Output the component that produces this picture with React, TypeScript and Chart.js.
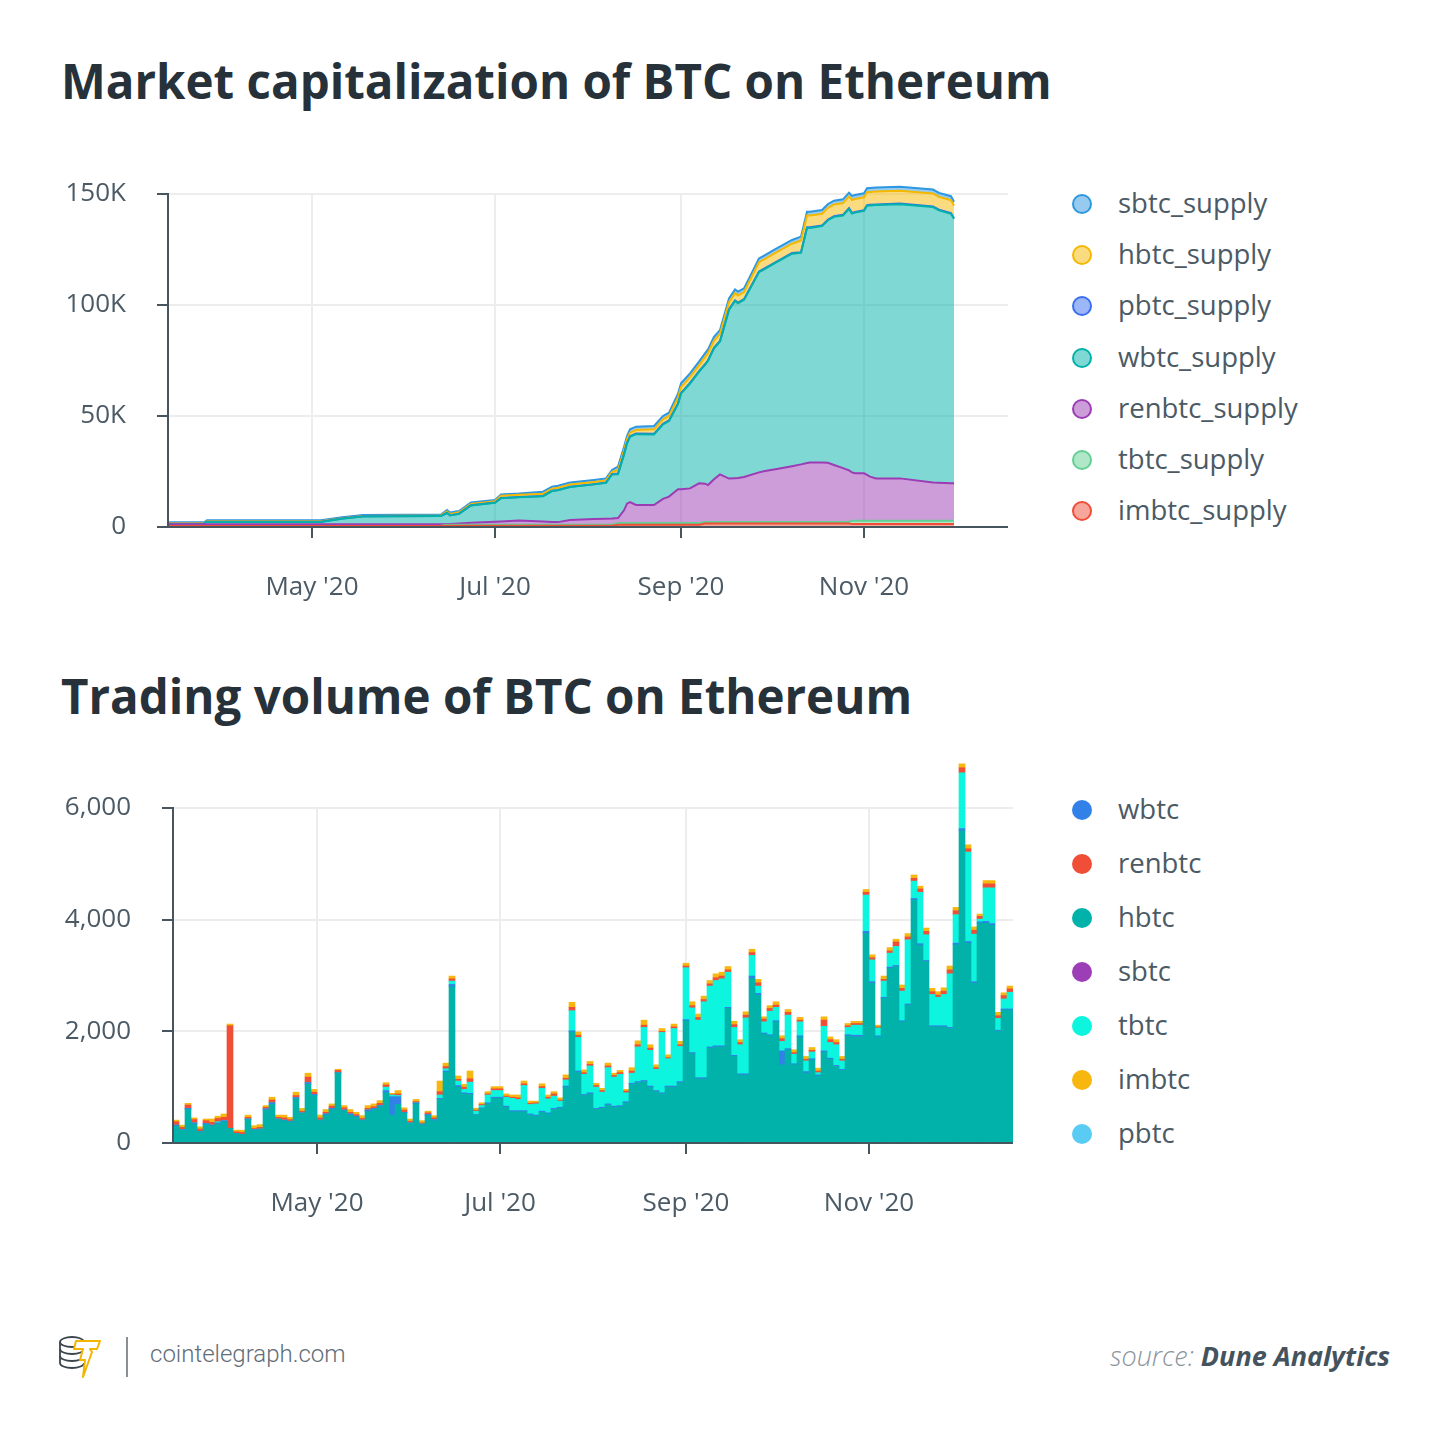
import React, { useEffect, useRef } from "react";
import { Chart, registerables } from "chart.js";

Chart.register(...registerables);

const FONT = "'Open Sans', 'Noto Sans', sans-serif";
const AXIS = "#47555f";
const GRID = "#ededed";
const TEXT = "#4b5a65";

// ---------- shared x axis (days since 1 Jan 2020) ----------
const dayMin = 73;
const dayMax = 353;
const monthTickDays = [121, 182, 244, 305];
const monthTickLabels = ["May '20", "Jul '20", "Sep '20", "Nov '20"];

// ---------- Market capitalization (supply) ----------
const supplyDays = [73, 85, 86, 124, 131, 138, 164, 166, 167, 170, 174, 182, 184, 190, 198, 201, 203, 207, 215, 219, 221, 223, 225, 226, 227, 229, 235, 238, 240, 243, 244, 247, 250, 252, 253, 255, 257, 260, 262, 263, 265, 270, 272, 275, 281, 284, 286, 287, 291, 293, 295, 298, 300, 301, 302, 305, 306, 307, 309, 317, 328, 330, 334, 335];
const imbtcSupply = [500, 500, 500, 500, 500, 500, 500, 600, 600, 600, 600, 600, 600, 600, 600, 600, 600, 600, 600, 600, 600, 1000, 1000, 1000, 1000, 1000, 1000, 1000, 1000, 1000, 1000, 1000, 1000, 1600, 1600, 1600, 1600, 1600, 1600, 1600, 1600, 1600, 1600, 1600, 1600, 1600, 1600, 1600, 1600, 1600, 1600, 1600, 1600, 1300, 1300, 1300, 1300, 1300, 1300, 1300, 1300, 1300, 1300, 1300];
const tbtcSupply = [0, 0, 0, 0, 0, 0, 100, 400, 400, 400, 400, 400, 400, 400, 400, 400, 400, 400, 400, 400, 400, 800, 800, 800, 800, 800, 800, 800, 800, 800, 800, 800, 800, 700, 700, 700, 700, 700, 700, 700, 700, 700, 700, 700, 700, 700, 700, 700, 700, 700, 700, 700, 700, 1500, 1500, 1500, 1500, 1500, 1500, 1500, 1500, 1500, 1500, 1500];
const renbtcSupply = [700, 700, 700, 700, 700, 700, 600, 300, 400, 600, 900, 1400, 1500, 1900, 1500, 1300, 1200, 2200, 2600, 2700, 2800, 2200, 5700, 8700, 9400, 8100, 8100, 10900, 11900, 15200, 15200, 15600, 17900, 17200, 16600, 19200, 21400, 19500, 19700, 19800, 20200, 22300, 22900, 23600, 25100, 25900, 26500, 26700, 26700, 26600, 25600, 24200, 23200, 21800, 21400, 21400, 20700, 19900, 19100, 19100, 17200, 17100, 16900, 16900];
const wbtcSupply = [200, 200, 1100, 1100, 2500, 3500, 3700, 5000, 3800, 4300, 7800, 8500, 10500, 10500, 11400, 13900, 14400, 14800, 15600, 16200, 19900, 19800, 25100, 27100, 29400, 31900, 31800, 33500, 34000, 38400, 43100, 47200, 50200, 53500, 55900, 59000, 59800, 76000, 79800, 78700, 79800, 90200, 91100, 92700, 95700, 95300, 105900, 105700, 106500, 109300, 111800, 113800, 117800, 116600, 117400, 118200, 121200, 122100, 123100, 123500, 124100, 122700, 121400, 119100];
const pbtcSupply = [100, 100, 100, 100, 100, 100, 100, 100, 100, 100, 100, 100, 100, 100, 100, 100, 100, 100, 100, 100, 100, 300, 300, 300, 300, 300, 300, 300, 300, 300, 300, 300, 300, 300, 300, 300, 300, 300, 300, 300, 300, 300, 300, 300, 300, 300, 300, 300, 300, 300, 300, 300, 300, 300, 300, 300, 300, 300, 300, 300, 300, 300, 300, 300];
const hbtcSupply = [200, 200, 200, 200, 200, 200, 200, 600, 600, 600, 600, 600, 1000, 1000, 1000, 1000, 1000, 1000, 1000, 1000, 1000, 1600, 1600, 1600, 1600, 1600, 2000, 2000, 2000, 2600, 2600, 2600, 2600, 3200, 3200, 3200, 3200, 3200, 3200, 3200, 3200, 4200, 4200, 4200, 4200, 5300, 5300, 5300, 5300, 5300, 5300, 5300, 5300, 5800, 5800, 5800, 5800, 5800, 5800, 5800, 5800, 5800, 5800, 5600];
const sbtcSupply = [400, 400, 400, 400, 400, 400, 400, 600, 600, 600, 600, 600, 600, 600, 900, 900, 900, 900, 900, 900, 900, 1500, 1500, 1500, 1500, 1500, 1500, 1500, 1500, 1700, 1700, 1700, 1700, 1700, 1700, 1700, 1700, 1700, 1700, 1700, 1700, 1700, 1700, 1700, 1700, 1700, 1700, 1700, 1700, 1700, 1700, 1700, 1700, 1800, 1800, 1800, 1800, 1800, 1800, 1800, 1800, 1800, 1800, 1800];
const supplyTicks = [0, 50000, 100000, 150000];
const supplyTickLabels = ["0", "50K", "100K", "150K"];

// stacking order bottom -> top
const supplySeries = [
  { label: "imbtc_supply", data: imbtcSupply, color: "#f04e37" },
  { label: "tbtc_supply", data: tbtcSupply, color: "#62cf93" },
  { label: "renbtc_supply", data: renbtcSupply, color: "#9c3cb4" },
  { label: "wbtc_supply", data: wbtcSupply, color: "#00b2a9" },
  { label: "pbtc_supply", data: pbtcSupply, color: "#3a6ff0" },
  { label: "hbtc_supply", data: hbtcSupply, color: "#f5b800" },
  { label: "sbtc_supply", data: sbtcSupply, color: "#2d97e0" },
];
const supplyLegendOrder = ["sbtc_supply", "hbtc_supply", "pbtc_supply", "wbtc_supply", "renbtc_supply", "tbtc_supply", "imbtc_supply"];

// ---------- Trading volume ----------
const volDays = [74, 76, 78, 80, 82, 84, 86, 88, 90, 92, 94, 96, 98, 100, 102, 104, 106, 108, 110, 112, 114, 116, 118, 120, 122, 124, 126, 128, 130, 132, 134, 136, 138, 140, 142, 144, 146, 148, 150, 152, 154, 156, 158, 160, 162, 164, 166, 168, 170, 172, 174, 176, 178, 180, 182, 184, 186, 188, 190, 192, 194, 196, 198, 200, 202, 204, 206, 208, 210, 212, 214, 216, 218, 220, 222, 224, 226, 228, 230, 232, 234, 236, 238, 240, 242, 244, 246, 248, 250, 252, 254, 256, 258, 260, 262, 264, 266, 268, 270, 272, 274, 276, 278, 280, 282, 284, 286, 288, 290, 292, 294, 296, 298, 300, 302, 304, 306, 308, 310, 312, 314, 316, 318, 320, 322, 324, 326, 328, 330, 332, 334, 336, 338, 340, 342, 344, 346, 348, 350, 352];
const hbtcVol = [300, 230, 600, 340, 200, 330, 310, 340, 380,
  260, 170, 150, 420, 230, 240, 590, 690, 420, 400,
  380, 790, 530, 1050, 850, 400, 500, 600, 1250, 580,
  500, 460, 400, 560, 600, 650, 900, 500, 690, 540,
  350, 700, 330, 490, 400, 780, 1270, 2800, 1000,
  880, 870, 500, 620, 700, 800, 800, 640, 560, 560,
  560, 500, 480, 550, 520, 600, 620, 1000, 1990, 1270,
  850, 880, 600, 620, 680, 640, 650, 720, 1050, 1080,
  1100, 1000, 920, 880, 1000, 1000, 1080, 2190, 1600, 1150,
  1150, 1700, 1720, 1720, 2410, 1550, 1220, 1220, 2950, 2650,
  1950, 1920, 2170, 1400, 1670, 1400, 1900, 1250, 1490, 1200,
  1630, 1500, 1370, 1300, 1920, 1900, 1900, 3750, 2860, 1900,
  2590, 3130, 3160, 2170, 2470, 4350, 3540, 3250, 2080, 2080,
  2080, 2050, 3550, 5590, 3580, 2860, 3940, 3940, 3900, 2000,
  2380, 2380];
const wbtcVol = [20, 10, 20, 20, 10, 20, 10, 20, 20,
  0, 0, 0, 10, 10, 10, 20, 30, 10, 10,
  10, 20, 10, 30, 20, 10, 20, 20, 10, 10,
  20, 20, 10, 30, 20, 20, 40, 330, 140, 10,
  10, 20, 10, 20, 20, 20, 20, 40, 30,
  20, 20, 10, 10, 20, 20, 20, 20, 20, 20,
  20, 20, 20, 20, 20, 20, 20, 20, 20, 20,
  20, 20, 20, 20, 20, 20, 20, 20, 20, 20,
  20, 20, 20, 20, 20, 20, 20, 20, 20, 20,
  20, 20, 20, 20, 20, 20, 20, 20, 40, 30,
  20, 20, 20, 250, 20, 20, 20, 30, 20, 20,
  20, 20, 20, 20, 20, 30, 30, 40, 30, 20,
  20, 20, 20, 20, 20, 30, 30, 20, 20, 20,
  20, 20, 30, 40, 30, 30, 20, 30, 30, 20,
  20, 20];
const tbtcVol = [0, 0, 0, 0, 0, 0, 0, 20, 0,
  0, 0, 0, 0, 0, 0, 0, 0, 0, 0,
  0, 0, 0, 0, 0, 0, 0, 0, 0, 0,
  0, 0, 0, 0, 0, 0, 60, 30, 20, 0,
  0, 0, 0, 0, 0, 60, 40, 60, 80,
  60, 200, 60, 40, 140, 120, 120, 160, 220, 200,
  450, 170, 200, 410, 250, 220, 110, 110, 360, 600,
  360, 480, 380, 270, 650, 520, 560, 160, 180, 620,
  950, 640, 380, 1080, 490, 1030, 630, 930, 800, 1030,
  1360, 1090, 1170, 1200, 630, 500, 520, 1000, 370, 130,
  200, 420, 240, 170, 600, 170, 250, 190, 120, 40,
  440, 280, 370, 150, 130, 180, 180, 650, 390, 140,
  290, 250, 340, 530, 1150, 310, 920, 460, 560, 510,
  560, 960, 510, 1000, 1600, 850, 50, 600, 640, 210,
  180, 300];
const sbtcVol: number[] = [];
const pbtcVol: number[] = [];
const renbtcVol = [60, 40, 60, 60, 40, 50, 50, 60, 60,
  1840, 30, 40, 30, 20, 30, 30, 50, 30, 40,
  30, 40, 30, 100, 40, 40, 30, 40, 40, 40,
  30, 30, 30, 30, 30, 40, 40, 10, 30, 40,
  30, 20, 20, 30, 30, 60, 40, 40, 30,
  40, 60, 20, 20, 20, 30, 30, 20, 20, 30,
  30, 20, 20, 30, 30, 40, 20, 30, 60, 40,
  30, 30, 30, 30, 30, 30, 30, 30, 40, 40,
  40, 40, 30, 20, 20, 30, 30, 30, 40, 50,
  40, 40, 50, 50, 40, 50, 40, 50, 50, 60,
  50, 50, 40, 50, 50, 30, 30, 30, 30, 30,
  110, 50, 40, 30, 30, 30, 30, 50, 40, 20,
  30, 40, 80, 50, 50, 50, 60, 60, 50, 40,
  60, 70, 70, 90, 60, 70, 50, 70, 70, 50,
  60, 60];
const imbtcVol = [30, 40, 30, 30, 40, 30, 60, 40, 60,
  30, 30, 40, 40, 50, 50, 30, 50, 40, 50,
  40, 60, 50, 70, 50, 50, 50, 40, 20, 40,
  50, 40, 50, 50, 50, 50, 40, 20, 60, 40,
  40, 40, 40, 30, 40, 190, 60, 50, 60,
  50, 140, 30, 30, 40, 40, 40, 40, 40, 50,
  50, 40, 30, 50, 40, 40, 40, 60, 90, 60,
  50, 50, 40, 40, 50, 40, 40, 30, 60, 70,
  90, 60, 50, 50, 50, 50, 60, 50, 70, 60,
  60, 60, 70, 70, 60, 60, 50, 60, 60, 60,
  40, 50, 60, 50, 50, 50, 50, 50, 50, 50,
  60, 50, 50, 50, 40, 40, 40, 50, 50, 30,
  60, 60, 50, 60, 60, 60, 50, 60, 60, 60,
  60, 70, 60, 70, 70, 60, 40, 60, 60, 60,
  50, 50];
const volumeTicks = [0, 2000, 4000, 6000];
const volumeTickLabels = ["0", "2,000", "4,000", "6,000"];

// stacking order bottom -> top
const volumeSeries = [
  { label: "hbtc", data: hbtcVol, color: "#00b2a9" },
  { label: "wbtc", data: wbtcVol, color: "#3281e8" },
  { label: "tbtc", data: tbtcVol, color: "#0df5de" },
  { label: "sbtc", data: sbtcVol, color: "#9c3fb6" },
  { label: "pbtc", data: pbtcVol, color: "#5acbf2" },
  { label: "renbtc", data: renbtcVol, color: "#f04e37" },
  { label: "imbtc", data: imbtcVol, color: "#f7b70f" },
];
const volumeLegendOrder = ["wbtc", "renbtc", "hbtc", "sbtc", "tbtc", "imbtc", "pbtc"];

// ---------- helpers ----------
function rgba(hex: string, a: number) {
  const n = parseInt(hex.slice(1), 16);
  return `rgba(${n >> 16},${(n >> 8) & 255},${n & 255},${a})`;
}

const framePlugin = {
  id: "frame",
  beforeDraw(chart: any, _a: any, opts: any) {
    const { ctx, scales } = chart;
    const xs = scales.x;
    const ys = scales.y;
    const top = ys.getPixelForValue(opts.yTop);
    const bottom = ys.getPixelForValue(0);
    ctx.save();
    ctx.strokeStyle = GRID;
    ctx.lineWidth = 2;
    monthTickDays.forEach((d) => {
      const px = Math.round(xs.getPixelForValue(d));
      ctx.beginPath();
      ctx.moveTo(px, top);
      ctx.lineTo(px, bottom);
      ctx.stroke();
    });
    ctx.restore();
  },
  afterDatasetsDraw(chart: any, _a: any, opts: any) {
    const { ctx, chartArea, scales } = chart;
    const ys = scales.y;
    const top = ys.getPixelForValue(opts.yTop) - 1;
    const bottom = Math.round(ys.getPixelForValue(0));
    ctx.save();
    ctx.strokeStyle = AXIS;
    ctx.lineWidth = 2;
    ctx.beginPath();
    ctx.moveTo(chartArea.left, top);
    ctx.lineTo(chartArea.left, bottom + 1);
    ctx.moveTo(chartArea.left - 1, bottom);
    ctx.lineTo(chartArea.right, bottom);
    ctx.stroke();
    ctx.restore();
  },
};

function scalesConfig(o: { yMax: number; yTicks: number[]; yLabels: string[]; leftWidth: number; xHeight: number; stackX: boolean }) {
  const tickFont = { family: FONT, size: 26 };
  return {
    x: {
      type: "linear",
      min: dayMin,
      max: dayMax,
      offset: false,
      stacked: o.stackX,
      afterBuildTicks: (s: any) => {
        s.ticks = monthTickDays.map((v) => ({ value: v }));
      },
      afterFit: (s: any) => {
        s.height = o.xHeight;
        s.paddingLeft = 0;
        s.paddingRight = 0;
        s.paddingTop = 0;
        s.paddingBottom = 0;
      },
      ticks: {
        callback: (_v: any, i: number) => monthTickLabels[i],
        font: tickFont,
        color: TEXT,
        padding: 34,
        maxRotation: 0,
        autoSkip: false,
      },
      grid: { drawOnChartArea: false, drawTicks: true, tickLength: 11, tickColor: AXIS, tickWidth: 2, lineWidth: 2, offset: false },
      border: { display: false },
    },
    y: {
      min: 0,
      max: o.yMax,
      stacked: true,
      afterBuildTicks: (s: any) => {
        s.ticks = o.yTicks.map((v) => ({ value: v }));
      },
      afterFit: (s: any) => {
        s.width = o.leftWidth;
        s.paddingTop = 0;
        s.paddingBottom = 0;
        s.paddingLeft = 0;
        s.paddingRight = 0;
      },
      ticks: {
        callback: (_v: any, i: number) => o.yLabels[i],
        font: tickFont,
        color: TEXT,
        padding: 31,
      },
      grid: { color: GRID, lineWidth: 2, drawTicks: true, tickLength: 11, tickColor: AXIS, tickWidth: 2 },
      border: { display: false },
    },
  };
}

function buildSupply(canvas: HTMLCanvasElement) {
  const datasets = supplySeries.map((s, idx) => ({
    label: s.label,
    data: supplyDays.map((d, i) => ({ x: d, y: s.data[i] })),
    borderColor: s.color,
    backgroundColor: rgba(s.color, 0.5),
    fill: idx === 0 ? "origin" : "-1",
    borderWidth: 2,
    pointRadius: 0,
    tension: 0,
  }));
  return new Chart(canvas, {
    type: "line",
    data: { datasets } as any,
    options: {
      animation: false,
      responsive: true,
      maintainAspectRatio: false,
      events: [],
      layout: { padding: { top: 30, right: 32, left: 0, bottom: 0 } },
      plugins: {
        legend: { display: false },
        tooltip: { enabled: false },
        filler: { drawTime: "beforeDatasetsDraw" },
        frame: { yTop: 150000 },
      } as any,
      scales: scalesConfig({ yMax: 156300, yTicks: supplyTicks, yLabels: supplyTickLabels, leftWidth: 168, xHeight: 93, stackX: false }) as any,
    },
    plugins: [framePlugin as any],
  });
}

function buildVolume(canvas: HTMLCanvasElement) {
  const datasets = volumeSeries.map((s) => ({
    label: s.label,
    data: s.data.map((v, i) => ({ x: volDays[i], y: v })),
    backgroundColor: s.color,
    borderWidth: 0,
    barPercentage: 1,
    categoryPercentage: 1,
  }));
  return new Chart(canvas, {
    type: "bar",
    data: { datasets } as any,
    options: {
      animation: false,
      responsive: true,
      maintainAspectRatio: false,
      events: [],
      layout: { padding: { top: 28, right: 27, left: 0, bottom: 0 } },
      plugins: {
        legend: { display: false },
        tooltip: { enabled: false },
        frame: { yTop: 6000 },
      } as any,
      scales: scalesConfig({ yMax: 6895, yTicks: volumeTicks, yLabels: volumeTickLabels, leftWidth: 173, xHeight: 97, stackX: true }) as any,
    },
    plugins: [framePlugin as any],
  });
}

function ChartBox({ build, style }: { build: (c: HTMLCanvasElement) => Chart; style: React.CSSProperties }) {
  const ref = useRef<HTMLCanvasElement | null>(null);
  useEffect(() => {
    if (!ref.current) return;
    const chart = build(ref.current);
    return () => chart.destroy();
  }, []);
  return (
    <div style={{ position: "absolute", ...style }}>
      <canvas ref={ref} />
    </div>
  );
}

function Legend({ items, top, step, hollow }: { items: { label: string; color: string }[]; top: number; step: number; hollow: boolean }) {
  return (
    <>
      {items.map((it, k) => {
        const cy = top + k * step;
        return (
          <React.Fragment key={it.label}>
            <div
              style={{
                position: "absolute",
                left: 1082 - 10,
                top: cy - 10,
                width: 20,
                height: 20,
                borderRadius: "50%",
                boxSizing: "border-box",
                background: hollow ? rgba(it.color, 0.5) : it.color,
                border: hollow ? `2px solid ${it.color}` : "none",
              }}
            />
            <div
              style={{
                position: "absolute",
                left: 1118,
                top: cy - 19,
                height: 36,
                lineHeight: "36px",
                fontFamily: FONT,
                fontSize: 27.5,
                color: TEXT,
                whiteSpace: "nowrap",
              }}
            >
              {it.label}
            </div>
          </React.Fragment>
        );
      })}
    </>
  );
}

const titleStyle: React.CSSProperties = {
  position: "absolute",
  left: 61,
  fontFamily: FONT,
  fontWeight: 700,
  fontSize: 47.5,
  lineHeight: "64px",
  color: "#26313a",
  whiteSpace: "nowrap",
  margin: 0,
};

export default function App() {
  const supplyLegend = supplyLegendOrder.map((l) => {
    const s = supplySeries.find((x) => x.label === l)!;
    return { label: s.label, color: s.color };
  });
  const volumeLegend = volumeLegendOrder.map((l) => {
    const s = volumeSeries.find((x) => x.label === l)!;
    return { label: s.label, color: s.color };
  });
  return (
    <div style={{ position: "absolute", left: 0, top: 0, width: 1450, height: 1437, background: "#ffffff", overflow: "hidden" }}>
      <div style={{ ...titleStyle, top: 49 }}>Market capitalization of BTC on Ethereum</div>
      <ChartBox build={buildSupply} style={{ left: 0, top: 150, width: 1040, height: 470 }} />
      <Legend items={supplyLegend} top={204} step={51.2} hollow={true} />

      <div style={{ ...titleStyle, top: 664 }}>Trading volume of BTC on Ethereum</div>
      <ChartBox build={buildVolume} style={{ left: 0, top: 730, width: 1040, height: 510 }} />
      <Legend items={volumeLegend} top={810} step={54} hollow={false} />

      {/* footer */}
      <svg style={{ position: "absolute", left: 56, top: 1332 }} width="50" height="48" viewBox="0 0 50 48">
        <g fill="none" stroke="#3b454d" strokeWidth="1.8">
          <ellipse cx="16" cy="10" rx="12" ry="5" />
          <path d="M4 10 v7 a12 5 0 0 0 24 0" />
          <path d="M4 17 v7 a12 5 0 0 0 24 0" />
          <path d="M4 24 v7 a12 5 0 0 0 24 0" />
        </g>
        <path d="M20 9 L44 9 L41 17 L34 17 L36 20 L27 45 L29 28 L24 28 L27 17 L18 17 Z" fill="#ffffff" stroke="#f5b400" strokeWidth="2" strokeLinejoin="round" />
      </svg>
      <div style={{ position: "absolute", left: 126, top: 1337, width: 2, height: 40, background: "#8a8f94" }} />
      <div style={{ position: "absolute", left: 150, top: 1339, fontFamily: "Roboto, 'Open Sans', sans-serif", fontWeight: 300, fontSize: 24, lineHeight: "30px", color: "#5f6d77", whiteSpace: "nowrap" }}>
        cointelegraph.com
      </div>
      <div style={{ position: "absolute", right: 60, top: 1338, fontFamily: FONT, fontSize: 27, lineHeight: "36px", fontStyle: "italic", whiteSpace: "nowrap" }}>
        <span style={{ color: "#8a949b", fontWeight: 300 }}>source: </span>
        <span style={{ color: "#45535e", fontWeight: 700 }}>Dune Analytics</span>
      </div>
    </div>
  );
}
